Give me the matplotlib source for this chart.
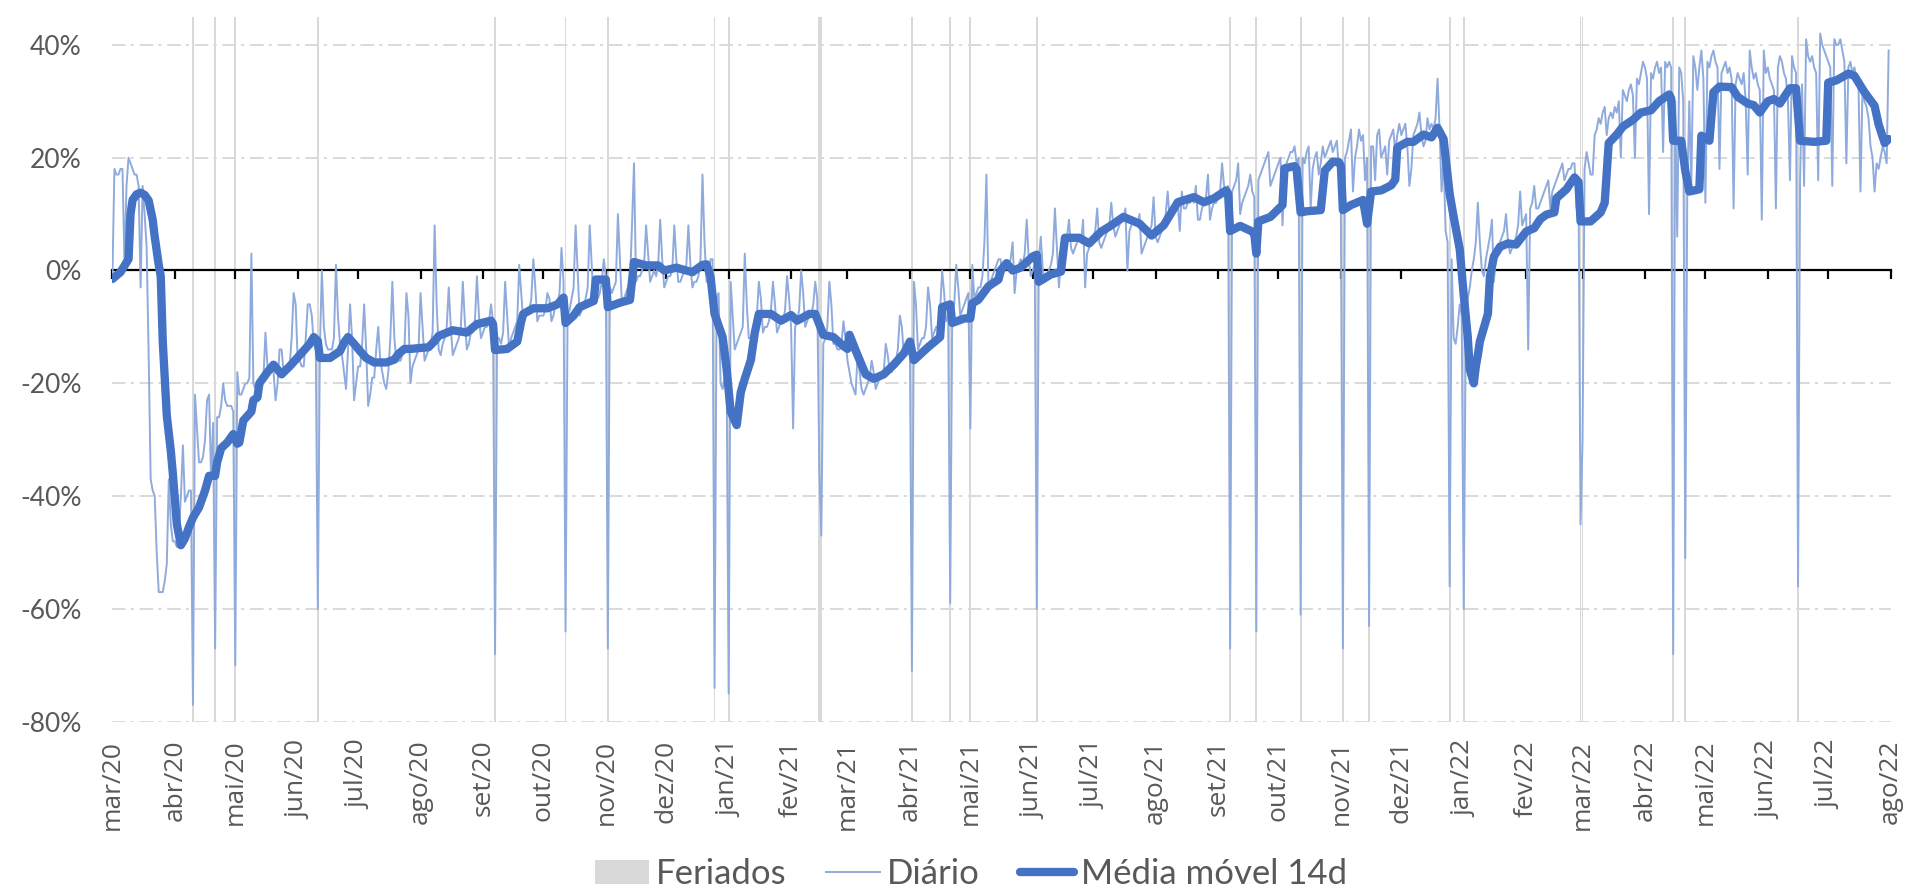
import numpy as np
import pandas as pd
import matplotlib
matplotlib.use("Agg")
import matplotlib.pyplot as plt
import matplotlib.dates as mdates
from matplotlib.patches import Patch
from matplotlib.lines import Line2D

plt.rcParams['font.family'] = ['Lato', 'DejaVu Sans']

# ---------------- data ----------------
inicio = '2020-03-01'
fim_eixo = '2022-08-01'

# daily values (%), one week (Sun..Sat) per row, starting Sun 2020-03-01
diario_p1 = [
    -1, 18, 17, 17, 18, 18, 1,
    15, 20, 19, 18, 17, 17, 15,
    -3, 15, 10, 4, -15, -37, -39,
    -40, -50, -57, -57, -57, -55, -52,
    -37, -45, -48, -48, -49, -47, -40,
    -31, -41, -40, -39, -39, -77, -22,
    -28, -34, -34, -33, -30, -23, -22,
    -37, -27, -67, -26, -26, -24, -20,
    -23, -24, -24, -24, -25, -70, -18,
    -22, -22, -21, -20, -20, -19, 3,
    -20, -21, -21, -21, -19, -19, -11,
    -17, -17, -18, -18, -23, -20, -14,
    -14, -18, -18, -17, -17, -12, -4,
    -6, -16, -16, -17, -17, -12, -6,
    -6, -8, -13, -14, -60, -14, 0,
    -10, -13, -14, -14, -14, -12, 1,
    -8, -13, -15, -18, -21, -14, -6,
    -12, -23, -20, -17, -17, -13, -6,
    -14, -24, -22, -19, -19, -14, -10,
    -16, -18, -20, -21, -18, -12, -2,
    -12, -16, -16, -16, -15, -14, -4,
    -8, -20, -17, -16, -15, -14, -4,
    -10, -16, -15, -14, -13, -11, 8,
    -6, -14, -15, -13, -12, -10, -3,
    -10, -15, -14, -13, -12, -10, -2,
    -9, -14, -13, -11, -11, -9, -1,
    -8, -12, -11, -10, -10, -9, -6,
    -9, -68, -12, -12, -13, -11, -2,
    -8, -14, -12, -11, -10, -9, 1,
    -4, -9, -8, -7, -7, -5, 2,
    -3, -9, -8, -8, -8, -7, -4,
    -5, -9, -8, -6, -6, -4, 4,
    -2, -64, -8, -7, -5, -3, 8,
    0, -8, -7, -6, -5, -3, 8,
    1, -6, -5, -5, -4, -2, 2,
    -1, -67, -3, -4, -3, -2, 10,
    2, -6, -5, -4, -3, -2, 8,
    19, -2, -1, -1, 0, 1, 8,
    3, -2, -1, 0, -1, 1, 9,
    2, -3, -2, -1, -1, 0, 8,
    2, -2, -2, -1, 0, 1, 8,
    1, -3, -2, -2, -1, 2, 17,
    5, -2, -1, 2, 2, -74, -5,
    -4, -20, -21, -19, -18, -75, -2,
]
diario_p2 = [
    -8, -14, -13, -12, -11, -10, 3,
    -6, -12, -12, -11, -10, -8, -2,
    -5, -11, -10, -10, -9, -7, -2,
    -6, -11, -10, -9, -9, -7, -1,
    -5, -10, -28, -10, -9, -7, 0,
    -4, -10, -9, -8, -8, -6, -2,
    -5, -35, -47, -13, -12, -10, -2,
    -6, -13, -13, -14, -14, -13, -9,
    -12, -16, -18, -20, -21, -22, -15,
    -18, -21, -22, -21, -20, -19, -16,
    -18, -21, -20, -19, -19, -18, -13,
    -15, -18, -18, -16, -16, -14, -8,
    -10, -15, -15, -13, -13, -71, -2,
    -6, -14, -13, -12, -12, -10, -3,
    -6, -12, -11, -10, -10, -7, 0,
    -4, -9, -8, -59, -8, -6, 1,
    -3, -8, -7, -6, -5, -4, -28,
    1, -5, -4, -3, -3, -1, 5,
    17, -3, -2, -1, 0, 1, 2,
    2, -1, 0, 1, 1, 2, 5,
    -4, 0, 1, 2, 1, 3, 9,
    2, -1, 0, 1, -60, 2, 6,
    0, -2, -1, 0, 1, 3, 11,
    4, -3, 2, 4, 5, 6, 9,
    4, 3, 4, 5, 6, 5, 9,
    -3, 3, 4, 5, 6, 7, 11,
    5, 4, 5, 6, 7, 8, 12,
    8, 6, 7, 8, 9, 9, 11,
    0, 7, 8, 9, 9, 8, 10,
    3, 4, 5, 6, 7, 8, 13,
    6, 5, 6, 7, 8, 10, 14,
    9, 10, 11, 12, 12, 7, 14,
    11, 11, 12, 12, 13, 12, 15,
    9, 9, 11, 12, 13, 17, 9,
    11, 12, 12, 13, 14, 19, 15,
    14, 15, -67, 14, 15, 16, 19,
    10, 12, 13, 14, 15, 17, 14,
    13, -64, 16, 17, 18, 19, 20,
    21, 15, 16, 17, 18, 19, 20,
    8, 17, 19, 20, 21, 21, 22,
    19, 20, -61, 20, 19, 21, 22,
    11, 18, 20, 21, 17, 19, 22,
    20, 21, 22, 23, 21, 22, 23,
    18, 11, -67, 20, 21, 23, 25,
    14, 20, 22, 25, 23, 24, 16,
    20, -63, 22, 22, 16, 24, 25,
    20, 21, 22, 17, 23, 24, 25,
    21, 24, 26, 24, 25, 26, 22,
    15, 18, 24, 25, 26, 28, 24,
    22, 23, 27, 25, 26, 25, 27,
    34, 25, 14, 20, 7, 5, -56,
    2, -12, -13, -10, -6, -8, -60,
]
diario_p3 = [
    -10, -5, -3, 0, 2, 5, 12,
    5, 0, -1, 2, 4, 6, 9,
    -2, 3, 4, 5, 6, 7, 10,
    5, 3, 4, 5, 6, 8, 14,
    8, 9, 10, -14, 11, 12, 15,
    11, 11, 12, 13, 14, 15, 16,
    11, 14, 15, 16, 17, 18, 19,
    16, 17, 18, 18, 19, 19, 11,
    15, -45, -30, 18, 21, 19, 17,
    17, 24, 25, 27, 26, 28, 29,
    24, 27, 28, 27, 29, 28, 30,
    20, 32, 31, 30, 32, 33, 31,
    20, 34, 33, 35, 37, 36, 34,
    10, 35, 34, 36, 37, 35, 36,
    21, 37, 36, 37, 36, -68, 30,
    6, 36, 35, 30, -51, 14, 30,
    15, 38, 36, 32, 36, 39, 34,
    12, 37, 36, 38, 39, 37, 36,
    18, 35, 36, 37, 35, 36, 34,
    11, 33, 35, 34, 33, 35, 30,
    17, 39, 36, 34, 35, 33, 32,
    9, 39, 35, 36, 34, 33, 32,
    11, 36, 38, 37, 35, 34, 30,
    16, 38, 36, 35, -56, 16, 33,
    15, 41, 38, 37, 38, 36, 35,
    16, 42, 40, 39, 38, 37, 36,
    15, 41, 40, 40, 41, 39, 37,
    19, 36, 37, 35, 36, 34, 33,
    14, 32, 30, 29, 27, 22, 20,
    14, 19, 18, 20, 22, 21, 19,
    39,
]

# 14-day moving average: day offset from 2020-03-01 and value (%)
mm_dia = [0, 4, 8, 9, 10, 12, 14, 16, 18, 20, 21, 23, 24, 25, 27, 29, 30, 32, 34, 36,
          38, 40, 43, 46, 48, 51, 52, 54, 57, 60, 62, 63, 65, 69, 70, 72, 73, 75, 77, 80,
          84, 88, 93, 98, 100, 102, 103, 108, 113, 115, 117, 120, 123, 126, 130, 136, 140, 142, 145, 148,
          157, 160, 162, 169, 176, 181, 188, 189, 190, 196, 201, 203, 204, 209, 216, 221, 224, 225, 229, 232,
          239, 240, 245, 246, 252, 257, 259, 265, 271, 274, 280, 288, 293, 295, 297, 299, 303, 305, 307, 310,
          312, 314, 317, 319, 321, 327, 332, 337, 340, 346, 349, 353, 358, 363, 365, 366, 370, 374, 378, 383,
          388, 393, 396, 398, 405, 411, 412, 416, 417, 423, 426, 427, 430, 435, 440, 441, 444, 447, 451, 457,
          459, 460, 466, 471, 473, 480, 485, 491, 496, 502, 510, 516, 522, 529, 537, 542, 547, 553, 554, 555,
          560, 566, 567, 568, 569, 575, 581, 582, 587, 588, 590, 593, 600, 602, 606, 609, 610, 611, 615, 621,
          623, 625, 630, 635, 637, 638, 643, 646, 651, 655, 658, 661, 662, 664, 666, 669, 671, 673, 674, 676,
          677, 678, 679, 683, 684, 686, 689, 693, 697, 702, 706, 709, 712, 716, 717, 722, 726, 728, 729, 734,
          739, 741, 743, 747, 750, 755, 759, 764, 768, 773, 774, 775, 779, 781, 783, 788, 789, 793, 795, 798,
          804, 807, 812, 815, 818, 822, 825, 828, 833, 836, 838, 845, 851, 852, 856, 862, 865, 870, 875, 877,
          880, 882]
mm_valor = [-1.5, -0.3, 2, 10, 12.5, 13.5, 13.8, 13.4, 12.4, 9, 6, 1, -1, -12.6, -25.7, -32, -36, -45, -48.7, -47.5,
            -45.5, -43.8, -42, -39, -36.4, -36.4, -34, -31.5, -30.5, -29, -30.7, -30.5, -26.6, -25, -23, -22.5, -20, -19, -18, -16.7,
            -18.4, -17, -15, -13, -11.8, -12.5, -15.5, -15.5, -14.3, -12.8, -11.8, -13, -14.3, -15.5, -16.3, -16.3, -15.8, -14.8, -13.9, -13.9,
            -13.6, -12.5, -11.6, -10.6, -11, -9.5, -8.9, -9.5, -14.1, -13.9, -12.6, -9, -7.7, -6.7, -6.7, -6, -4.8, -9.3, -8, -6.5,
            -5.4, -1.6, -1.6, -6.5, -5.7, -5.2, 1.5, 0.9, 0.9, 0, 0.5, -0.3, 1.0, 1.1, -1.1, -7.7, -11.8, -17.5, -25, -27.4,
            -21.6, -19.2, -15.9, -11, -7.7, -7.7, -8.9, -7.9, -8.9, -7.7, -7.7, -11.4, -11.8, -13.4, -13.9, -11.4, -15, -18.4, -19.2, -18.4,
            -16.7, -14.7, -12.6, -15.9, -13.6, -11.8, -6.5, -6, -9.3, -8.5, -8.5, -5.8, -5.2, -2.8, -1.6, 0, 1.3, 0, 0.5, 2.5,
            2.8, -2, -0.7, -0.2, 5.8, 5.8, 4.8, 6.9, 8, 9.5, 8.3, 6.2, 8, 12.1, 13, 12.1, 12.8, 14.2, 13.6, 7,
            7.9, 6.9, 6.5, 3, 8.7, 9.5, 11.6, 18.1, 18.5, 18, 10.3, 10.5, 10.7, 17.7, 19.3, 19.2, 18.5, 10.7, 11.6, 12.5,
            8.3, 14, 14.2, 15.1, 16.1, 21.8, 22.8, 22.8, 24.1, 23.6, 25.3, 23.3, 20, 13.6, 9.5, 3.8, -4.4, -11.8, -17.5, -20,
            -17, -15, -12.6, -7.7, -1.1, 2.5, 4.2, 4.8, 4.6, 6.9, 7.5, 9.1, 9.9, 10.3, 12.8, 14.4, 16.5, 15.7, 8.7, 8.7,
            10.3, 12, 22.6, 24.1, 25.5, 26.7, 28, 28.4, 30, 31.2, 30.5, 23, 23, 17.7, 14, 14.4, 23.9, 23, 31.6, 32.6,
            32.5, 30.8, 29.6, 29.3, 28, 30, 30.4, 29.6, 32.3, 32.3, 23, 22.8, 23, 33.3, 33.7, 34.9, 34.5, 31.6, 29.2, 25.9,
            22.6, 23.3]

feriados = ['2020-04-10', '2020-04-21', '2020-05-01', '2020-06-11', '2020-09-07', '2020-10-12',
            '2020-11-02', '2020-12-25', '2021-01-01', '2021-02-15', '2021-02-16', '2021-04-02',
            '2021-04-21', '2021-05-01', '2021-06-03', '2021-09-07', '2021-09-20', '2021-10-12',
            '2021-11-02', '2021-11-15', '2021-12-25', '2022-01-01', '2022-02-28', '2022-03-01',
            '2022-04-15', '2022-04-21', '2022-06-16']

meses_pt = ['jan', 'fev', 'mar', 'abr', 'mai', 'jun', 'jul', 'ago', 'set', 'out', 'nov', 'dez']
y_ticks = [-80, -60, -40, -20, 0, 20, 40]
y_min, y_max = -80, 45

# ---------------- plot ----------------
diario = diario_p1 + diario_p2 + diario_p3
datas = pd.date_range(inicio, periods=len(diario), freq='D')
mm_datas = pd.Timestamp(inicio) + pd.to_timedelta(mm_dia, unit='D')
fer = pd.to_datetime(feriados)
meses = pd.date_range(inicio, fim_eixo, freq='MS')
rot_meses = [f"{meses_pt[d.month - 1]}/{d.strftime('%y')}" for d in meses]

c_fer = '#D9D9D9'
c_dia = '#8FAADC'
c_mm = '#4472C4'
c_txt = '#595959'

fig = plt.figure(figsize=(19.15, 8.94), dpi=100)
ax = fig.add_axes([0.0587, 0.1926, 0.9286, 0.7888])
ax.set_ylim(y_min, y_max)
ax.set_xlim(pd.Timestamp(inicio), pd.Timestamp(fim_eixo))

ax.bar(fer, y_max - y_min, bottom=y_min, width=0.9, color=c_fer, zorder=1, linewidth=0)

ax.set_yticks(y_ticks)
ax.set_yticklabels([f"{v}%" for v in y_ticks])
ax.yaxis.grid(True, color='#D9D9D9', linestyle=(0, (7, 2.6, 1.6, 3)), linewidth=1.4, zorder=0.5)
ax.set_axisbelow(True)
for s in ax.spines.values():
    s.set_visible(False)
ax.tick_params(axis='y', length=0, pad=22, labelsize=19, labelcolor=c_txt)

ax.set_xticks(meses)
ax.set_xticklabels(rot_meses, rotation=90)
ax.tick_params(axis='x', length=0, pad=13, labelsize=19, labelcolor=c_txt,
               labelfontfamily='Open Sans')

# zero line with month tick marks
sec = ax.secondary_xaxis((0 - y_min) / (y_max - y_min))
sec.set_alignment('bottom')
sec.set_xticks(mdates.date2num(meses))
sec.set_xticklabels([])
sec.tick_params(axis='x', direction='out', length=6.5, width=1.6, colors='black')
sec.spines['bottom'].set_linewidth(1.6)
sec.spines['bottom'].set_color('black')
sec.set_zorder(1.5)

ax.plot(datas, diario, color=c_dia, lw=1.4, zorder=3)
ax.plot(mm_datas, mm_valor, color=c_mm, lw=6, solid_joinstyle='round',
        solid_capstyle='round', zorder=4)

handles = [Patch(facecolor=c_fer, edgecolor='none', label='Feriados'),
           Line2D([], [], color=c_dia, lw=1.4, label='Diário'),
           Line2D([], [], color=c_mm, lw=6, solid_capstyle='round', label='Média móvel 14d')]
fig.legend(handles=handles, loc='center', bbox_to_anchor=(0.507, 0.022), ncol=3,
           frameon=False, fontsize=25, labelcolor=c_txt, handlelength=1.55,
           handletextpad=0.2, columnspacing=1.15)

fig.savefig('out.png', dpi=100)
